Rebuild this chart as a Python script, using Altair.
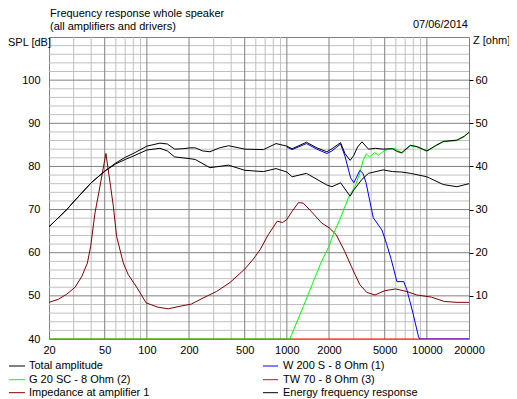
import altair as alt
import pandas as pd

# ---------------- data ----------------
X_TICKS = [20, 50, 100, 200, 500, 1000, 2000, 5000, 10000, 20000]
X_GRID_MAJOR = [50, 100, 200, 500, 1000, 2000, 5000, 10000]
X_GRID_MINOR = [30, 40, 60, 70, 80, 90, 300, 400, 600, 700, 800, 900,
                3000, 4000, 6000, 7000, 8000, 9000]
Y_TICKS = [40, 50, 60, 70, 80, 90, 100]
Y_GRID_MAJOR = [50, 60, 70, 80, 90, 100]
Y_GRID_MINOR = [42, 44, 46, 48, 52, 54, 56, 58, 62, 64, 66, 68, 72, 74, 76, 78,
                82, 84, 86, 88, 92, 94, 96, 98, 102, 104, 106, 108]
Z_TICKS = [10, 20, 30, 40, 50, 60]

# Total amplitude (upper black)
total_f = [20, 26.8, 30, 40, 50, 60, 70, 80, 100, 124, 140, 158, 180, 203, 222, 250, 282,
           330, 383, 440, 500, 681, 837, 1000, 1090, 1380, 1640, 1930, 2100, 2420, 2600,
           2830, 3000, 3200, 3440, 3830, 4300, 4870, 5690, 6200, 6620, 7620, 8500, 10000,
           11500, 13100, 16400, 18500, 20000]
total_db = [66.0, 70.0, 71.8, 76.2, 78.9, 80.8, 82.1, 83.0, 84.7, 85.4, 85.2, 84.0, 84.1,
            84.3, 84.3, 83.6, 83.4, 84.3, 84.8, 84.4, 84.0, 83.9, 85.3, 84.7, 84.1, 85.6,
            84.3, 83.4, 84.1, 85.5, 83.0, 81.4, 82.5, 84.5, 85.7, 84.0, 84.2, 84.0, 84.1,
            83.4, 83.2, 84.9, 84.6, 83.6, 84.8, 85.8, 86.1, 87.0, 87.9]

# Energy frequency response (lower black)
energy_f = [20, 26.8, 30, 40, 50, 60, 70, 80, 100, 124, 140, 158, 203, 222, 282, 383, 500,
            681, 837, 1000, 1090, 1380, 1640, 1930, 2100, 2420, 2830, 3000, 3440, 3830,
            4870, 5690, 6620, 7620, 10000, 13100, 16400, 20000]
energy_db = [66.0, 70.0, 71.8, 76.2, 78.9, 80.6, 81.6, 82.4, 83.8, 84.2, 83.6, 82.2, 81.8,
             81.6, 79.7, 80.3, 79.1, 78.8, 79.5, 78.7, 77.6, 78.4, 77.0, 75.7, 75.3, 76.2,
             73.1, 74.5, 77.0, 78.4, 79.2, 78.8, 78.7, 78.4, 77.6, 75.8, 75.3, 76.0]

# W 200 S - 8 Ohm (1), woofer (blue)
woofer_f = [1000, 1090, 1380, 1640, 1930, 2100, 2420, 2600, 2850, 3010, 3320, 3500, 3680,
            4140, 4770, 5140, 5570, 6110, 6840, 7200, 7960, 8720, 8900, 20000]
woofer_db = [84.5, 83.9, 85.3, 84.0, 83.0, 83.6, 85.2, 82.4, 77.4, 76.2, 79.1, 78.4, 76.2,
             68.1, 65.3, 62.2, 58.4, 53.3, 53.3, 51.4, 46.0, 40.5, 40.0, 40.0]

# G 20 SC - 8 Ohm (2), green
g20_f = [20, 1050, 1310, 1590, 1770, 2000, 2140, 2360, 2750, 3080, 3320, 3500, 3680, 3900,
         4230, 4500, 4870, 5300, 5990, 6620, 7000, 7620, 8500, 10000, 11500, 13100, 16400,
         18500, 20000]
g20_db = [40.0, 40.0, 47.5, 54.3, 58.0, 61.5, 64.2, 67.3, 72.7, 75.5, 78.5, 81.3, 82.9,
          82.2, 83.2, 82.6, 83.4, 84.1, 84.1, 83.0, 83.7, 84.8, 84.5, 83.5, 84.7, 85.7,
          86.0, 86.9, 87.9]

# TW 70 - 8 Ohm (3), red (below range)
tw70_f = [20, 20000]
tw70_db = [40.0, 40.0]

# Impedance at amplifier 1 (ohm, right axis)
imp_f = [20, 23.3, 26.8, 30.7, 34.3, 37.6, 39.7, 42.6, 46, 51, 55, 57.6, 60.8, 67.9, 73.7,
         85.4, 98.6, 119, 142, 167, 208, 252, 314, 393, 500, 572, 644, 737, 853, 932, 1000,
         1090, 1210, 1310, 1490, 1770, 2020, 2250, 2590, 2890, 3320, 3720, 4260, 5000,
         5990, 7200, 8480, 10800, 13300, 16400, 20000]
imp_ohm = [8.5, 9.2, 10.4, 12.0, 14.5, 17.6, 21.5, 29.2, 35.0, 43.0, 35.5, 30.8, 23.8, 17.6,
           14.9, 11.8, 8.4, 7.4, 7.0, 7.5, 8.1, 9.5, 11.0, 13.1, 16.2, 18.4, 20.7, 24.2, 27.3,
           27.0, 27.7, 29.6, 31.6, 31.5, 29.6, 26.9, 25.7, 24.2, 20.3, 16.8, 12.6, 10.8, 10.2,
           11.2, 11.6, 11.0, 10.2, 9.7, 8.7, 8.5, 8.5]

LEGEND_NAMES = ["Total amplitude", "W 200 S - 8 Ohm (1)", "G 20 SC - 8 Ohm (2)",
                "TW 70 - 8 Ohm (3)", "Impedance at amplifier 1", "Energy frequency response"]
LEGEND_COLORS = ["#000000", "#0000ff", "#00ff00", "#ff0000", "#800000", "#000000"]

TITLE1 = "Frequency response whole speaker"
TITLE2 = "(all amplifiers and drivers)"
DATE = "07/06/2014"
YLEFT = "SPL [dB]"
YRIGHT = "Z [ohm]"

# ---------------- chart ----------------
FONT = "Liberation Sans"
W, H = 420, 302
MINOR = "#c0c0c0"
MAJOR = "#808080"

xscale = alt.Scale(type="log", domain=[20, 20000], nice=False)
yscale = alt.Scale(domain=[40, 110], nice=False, zero=False)
zscale = alt.Scale(domain=[0, 70], nice=False, zero=False)

x_axis = alt.Axis(values=X_TICKS, format="d", ticks=False, domain=False, grid=False,
                  labelPadding=5, labelFlush=False, labelOverlap=False, title=None,
                  labelFont=FONT, labelFontSize=11, labelColor="black")
y_axis = alt.Axis(values=Y_TICKS, orient="left", ticks=False, domain=False, grid=False,
                  labelPadding=9, title=None, labelFont=FONT, labelFontSize=11,
                  labelColor="black")
z_axis = alt.Axis(values=Z_TICKS, orient="right", ticks=True, tickSize=4, tickColor="black",
                  domain=False, grid=False, labelPadding=2, title=None, labelFont=FONT,
                  labelFontSize=11, labelColor="black")


def vrules(vals, color):
    return alt.Chart(pd.DataFrame({"f": vals})).mark_rule(color=color, strokeWidth=1).encode(
        x=alt.X("f:Q", scale=xscale, axis=x_axis))


def hrules(vals, color, axis=None):
    return alt.Chart(pd.DataFrame({"v": vals})).mark_rule(color=color, strokeWidth=1).encode(
        y=alt.Y("v:Q", scale=yscale, axis=axis))


def curve(fs, vs, color, scale=yscale, axis=None):
    df = pd.DataFrame({"f": fs, "v": vs})
    return alt.Chart(df).mark_line(color=color, strokeWidth=1, clip=True).encode(
        x=alt.X("f:Q", scale=xscale, axis=x_axis),
        y=alt.Y("v:Q", scale=scale, axis=axis))


def text(t, x, y, align="left"):
    return alt.Chart(pd.DataFrame({"t": [t]})).mark_text(
        font=FONT, fontSize=11, color="black", align=align, baseline="middle").encode(
        x=alt.value(x), y=alt.value(y), text="t:N")


layers = [
    vrules(X_GRID_MINOR, MINOR),
    hrules(Y_GRID_MINOR, MINOR),
    vrules(X_GRID_MAJOR, MAJOR),
    hrules(Y_GRID_MAJOR, MAJOR, axis=y_axis),
    curve(imp_f, imp_ohm, "#800000", scale=zscale, axis=z_axis),
    curve(tw70_f, tw70_db, "#ff0000"),
    curve(g20_f, g20_db, "#00ff00"),
    curve(woofer_f, woofer_db, "#0000ff"),
    curve(energy_f, energy_db, "#000000"),
    curve(total_f, total_db, "#000000"),
    text(TITLE1, 1, -23),
    text(TITLE2, 1, -10),
    text(DATE, 419, -12, align="right"),
    text(YLEFT, -41, 5.5),
    text(YRIGHT, 424, 4),
]

row_y = [329, 342.7, 355.7]
col_x = [(-40, -24, -20), (214, 229, 234)]
for i, (name, color) in enumerate(zip(LEGEND_NAMES, LEGEND_COLORS)):
    cx = col_x[i % 2]
    ry = row_y[i // 2]
    layers.append(
        alt.Chart(pd.DataFrame({"t": [name]})).mark_rule(color=color, strokeWidth=1).encode(
            x=alt.value(cx[0]), x2=alt.value(cx[1]), y=alt.value(ry)))
    layers.append(text(name, cx[2], ry))

chart = alt.layer(*layers).resolve_scale(y="independent").properties(
    width=W, height=H, autosize="none",
    padding={"left": 41, "top": 29, "right": 40, "bottom": 62},
    background="white",
).configure_view(stroke=MAJOR, strokeWidth=1)

chart.save("out.html", embed_options={"renderer": "svg", "actions": False})
